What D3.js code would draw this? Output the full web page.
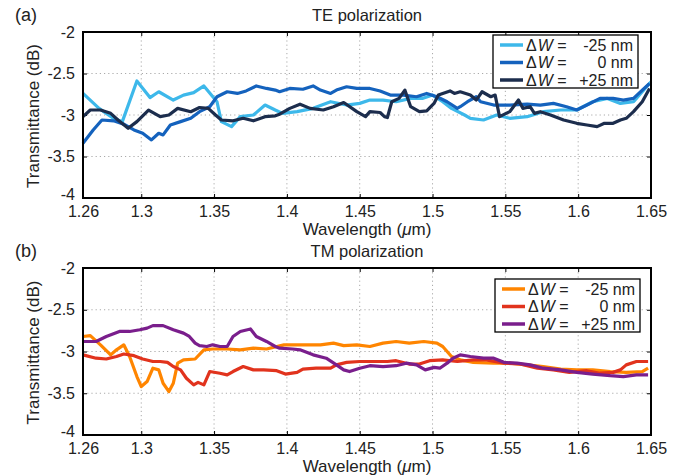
<!DOCTYPE html>
<html>
<head>
<meta charset="utf-8">
<script src="https://cdn.jsdelivr.net/npm/d3@7"></script>
<style>
  body { margin: 0; background: #fff; }
  text { font-family: "Liberation Sans", Arial, sans-serif; fill: #222; }
  .grid line { stroke: #aaa; stroke-dasharray: 1.2 3; stroke-width: 1; }
  .axis .domain { display: none; }
  .axis line { stroke: #000; }
</style>
</head>
<body>
<div id="chart"></div>
<script>
// wavelength (um), transmittance (dB)
var teMinus25 = [[1.260,-2.74],[1.271,-2.92],[1.281,-3.04],[1.287,-3.08],[1.297,-2.59],[1.306,-2.79],[1.312,-2.72],[1.322,-2.82],[1.329,-2.76],[1.336,-2.73],[1.343,-2.65],[1.352,-2.84],[1.355,-3.08],[1.362,-3.14],[1.368,-3.02],[1.377,-3.00],[1.385,-2.88],[1.392,-2.94],[1.397,-2.98],[1.407,-2.96],[1.418,-2.92],[1.430,-2.84],[1.441,-2.88],[1.450,-2.86],[1.457,-2.82],[1.466,-2.82],[1.475,-2.84],[1.485,-2.80],[1.493,-2.80],[1.500,-2.76],[1.507,-2.84],[1.513,-2.92],[1.522,-3.00],[1.526,-3.04],[1.535,-3.06],[1.544,-3.00],[1.553,-3.04],[1.565,-3.02],[1.576,-2.96],[1.588,-2.94],[1.599,-2.94],[1.610,-2.84],[1.620,-2.80],[1.629,-2.86],[1.638,-2.84],[1.647,-2.66],[1.650,-2.60]];
var teZero = [[1.260,-3.34],[1.267,-3.18],[1.273,-3.06],[1.281,-3.07],[1.288,-3.11],[1.295,-3.18],[1.301,-3.22],[1.307,-3.30],[1.312,-3.22],[1.315,-3.24],[1.320,-3.12],[1.327,-3.08],[1.334,-3.04],[1.340,-2.96],[1.347,-2.90],[1.352,-2.78],[1.359,-2.72],[1.366,-2.74],[1.372,-2.71],[1.379,-2.65],[1.386,-2.68],[1.392,-2.70],[1.395,-2.72],[1.402,-2.68],[1.411,-2.69],[1.418,-2.65],[1.423,-2.70],[1.430,-2.74],[1.434,-2.70],[1.441,-2.66],[1.448,-2.68],[1.457,-2.68],[1.464,-2.71],[1.471,-2.76],[1.480,-2.76],[1.489,-2.78],[1.496,-2.74],[1.503,-2.78],[1.510,-2.84],[1.517,-2.92],[1.519,-2.90],[1.524,-2.84],[1.530,-2.78],[1.533,-2.84],[1.542,-2.88],[1.553,-2.88],[1.565,-2.87],[1.574,-2.88],[1.583,-2.86],[1.592,-2.90],[1.599,-2.94],[1.606,-2.88],[1.615,-2.80],[1.624,-2.80],[1.631,-2.82],[1.638,-2.80],[1.644,-2.70],[1.649,-2.62]];
var tePlus25 = [[1.260,-3.02],[1.265,-2.94],[1.272,-2.94],[1.279,-2.98],[1.284,-3.06],[1.291,-3.16],[1.297,-3.08],[1.305,-2.94],[1.313,-3.02],[1.319,-3.00],[1.325,-2.92],[1.334,-2.96],[1.340,-2.91],[1.346,-2.92],[1.351,-3.00],[1.355,-3.06],[1.363,-3.07],[1.370,-3.04],[1.377,-3.07],[1.385,-3.02],[1.392,-3.01],[1.395,-2.99],[1.402,-2.92],[1.409,-2.87],[1.416,-2.92],[1.425,-2.94],[1.432,-2.90],[1.439,-2.85],[1.448,-2.96],[1.454,-3.02],[1.457,-2.96],[1.464,-2.97],[1.467,-3.02],[1.469,-3.03],[1.472,-2.84],[1.477,-2.80],[1.481,-2.70],[1.485,-2.90],[1.491,-2.96],[1.496,-2.95],[1.501,-2.86],[1.504,-2.76],[1.512,-2.71],[1.515,-2.74],[1.519,-2.72],[1.526,-2.76],[1.530,-2.82],[1.534,-2.72],[1.540,-2.78],[1.543,-2.76],[1.546,-3.02],[1.553,-2.96],[1.559,-2.82],[1.562,-2.92],[1.567,-2.90],[1.570,-2.98],[1.574,-2.96],[1.581,-3.00],[1.590,-3.06],[1.599,-3.10],[1.606,-3.12],[1.613,-3.14],[1.618,-3.10],[1.624,-3.10],[1.629,-3.06],[1.633,-3.04],[1.638,-2.96],[1.644,-2.84],[1.649,-2.68]];

var tmMinus25 = [[1.260,-2.82],[1.265,-2.81],[1.272,-2.92],[1.279,-3.04],[1.283,-2.98],[1.288,-2.92],[1.292,-3.06],[1.297,-3.30],[1.300,-3.42],[1.304,-3.36],[1.308,-3.20],[1.312,-3.22],[1.315,-3.38],[1.319,-3.48],[1.322,-3.38],[1.325,-3.14],[1.329,-3.10],[1.337,-3.09],[1.343,-2.98],[1.349,-2.97],[1.359,-2.97],[1.368,-2.98],[1.377,-2.96],[1.386,-2.97],[1.398,-2.92],[1.411,-2.92],[1.423,-2.92],[1.432,-2.90],[1.439,-2.93],[1.448,-2.92],[1.457,-2.94],[1.466,-2.90],[1.475,-2.88],[1.484,-2.90],[1.494,-2.88],[1.503,-2.90],[1.507,-2.94],[1.513,-3.06],[1.519,-3.10],[1.528,-3.13],[1.542,-3.14],[1.553,-3.14],[1.565,-3.16],[1.576,-3.18],[1.588,-3.21],[1.599,-3.22],[1.610,-3.22],[1.622,-3.24],[1.633,-3.25],[1.644,-3.24],[1.648,-3.20]];
var tmZero = [[1.260,-3.04],[1.269,-3.08],[1.276,-3.09],[1.283,-3.06],[1.288,-3.03],[1.295,-3.05],[1.301,-3.09],[1.308,-3.12],[1.313,-3.12],[1.318,-3.13],[1.322,-3.18],[1.327,-3.22],[1.331,-3.32],[1.336,-3.40],[1.339,-3.37],[1.343,-3.40],[1.347,-3.24],[1.354,-3.26],[1.359,-3.28],[1.363,-3.24],[1.370,-3.18],[1.377,-3.22],[1.384,-3.22],[1.393,-3.23],[1.399,-3.27],[1.407,-3.25],[1.411,-3.21],[1.420,-3.20],[1.430,-3.20],[1.434,-3.16],[1.441,-3.13],[1.450,-3.12],[1.459,-3.12],[1.469,-3.12],[1.475,-3.11],[1.484,-3.15],[1.491,-3.15],[1.498,-3.11],[1.507,-3.10],[1.517,-3.12],[1.528,-3.10],[1.537,-3.10],[1.549,-3.14],[1.560,-3.15],[1.572,-3.20],[1.583,-3.22],[1.594,-3.25],[1.606,-3.23],[1.615,-3.26],[1.624,-3.25],[1.629,-3.22],[1.633,-3.16],[1.640,-3.12],[1.648,-3.12]];
var tmPlus25 = [[1.260,-2.88],[1.269,-2.88],[1.276,-2.82],[1.285,-2.76],[1.292,-2.76],[1.299,-2.74],[1.304,-2.72],[1.308,-2.69],[1.315,-2.69],[1.322,-2.74],[1.329,-2.78],[1.333,-2.82],[1.337,-2.90],[1.340,-2.93],[1.345,-2.94],[1.349,-2.92],[1.354,-2.94],[1.359,-2.94],[1.363,-2.82],[1.368,-2.76],[1.375,-2.73],[1.379,-2.82],[1.386,-2.88],[1.392,-2.94],[1.395,-2.96],[1.404,-2.97],[1.409,-2.98],[1.418,-3.04],[1.427,-3.08],[1.434,-3.16],[1.439,-3.22],[1.443,-3.24],[1.450,-3.20],[1.457,-3.17],[1.466,-3.18],[1.475,-3.17],[1.482,-3.14],[1.489,-3.16],[1.495,-3.22],[1.501,-3.19],[1.505,-3.20],[1.510,-3.14],[1.514,-3.08],[1.519,-3.04],[1.526,-3.06],[1.535,-3.08],[1.542,-3.08],[1.549,-3.13],[1.558,-3.14],[1.567,-3.16],[1.576,-3.20],[1.588,-3.22],[1.599,-3.25],[1.610,-3.27],[1.622,-3.29],[1.631,-3.30],[1.640,-3.28],[1.648,-3.28]];

var xTicks = [1.26, 1.3, 1.35, 1.4, 1.45, 1.5, 1.55, 1.6, 1.65];
var yTicks = [-4, -3.5, -3, -2.5, -2];
var legendValues = ['-25 nm', '0 nm', '+25 nm'];
var teColors = ['#3db8ea', '#1462bd', '#1c2d4d'];
var tmColors = ['#ff8500', '#e1331d', '#7a1e8c'];

var svg = d3.select('#chart').append('svg')
  .attr('width', 690)
  .attr('height', 476);

var left = 83, right = 651;
var fontFamily = '"Liberation Sans", Arial, sans-serif';

var x = d3.scaleLinear().domain([1.26, 1.65]).range([left, right]);

function drawPanel(p) {
  var y = d3.scaleLinear().domain([-4, -2]).range([p.bottom, p.top]);
  var g = svg.append('g');

  // dotted grid
  var grid = g.append('g').attr('class', 'grid');
  grid.selectAll('.gx').data(xTicks.slice(1, -1))
    .enter().append('line')
    .attr('x1', function(d) { return x(d); })
    .attr('x2', function(d) { return x(d); })
    .attr('y1', p.top).attr('y2', p.bottom);
  grid.selectAll('.gy').data(yTicks.slice(1, -1))
    .enter().append('line')
    .attr('x1', left).attr('x2', right)
    .attr('y1', function(d) { return y(d); })
    .attr('y2', function(d) { return y(d); });

  // axes with inward ticks
  g.append('g').attr('class', 'axis')
    .attr('transform', 'translate(0,' + p.bottom + ')')
    .call(d3.axisBottom(x).tickValues(xTicks).tickSize(-4).tickPadding(8)
      .tickFormat(function(d) { return String(+d.toFixed(2)); }))
    .selectAll('text').attr('font-size', 16).style('font-family', fontFamily).attr('fill', '#222');
  g.append('g').attr('class', 'axis')
    .attr('transform', 'translate(0,' + p.top + ')')
    .call(d3.axisTop(x).tickValues(xTicks).tickSize(-4).tickFormat(''));
  var yAxis = g.append('g').attr('class', 'axis')
    .attr('transform', 'translate(' + left + ',0)')
    .call(d3.axisLeft(y).tickValues(yTicks).tickSize(-4).tickPadding(8)
      .tickFormat(function(d) { return String(d); }));
  yAxis.selectAll('text').attr('font-size', 16).style('font-family', fontFamily).attr('fill', '#222');
  // the bottom label sits a little above its tick, as in the original
  yAxis.selectAll('.tick').filter(function(d) { return d === -4; })
    .select('text').attr('y', -4);
  g.append('g').attr('class', 'axis')
    .attr('transform', 'translate(' + right + ',0)')
    .call(d3.axisRight(y).tickValues(yTicks).tickSize(-4).tickFormat(''));

  // curves
  var line = d3.line()
    .x(function(d) { return x(d[0]); })
    .y(function(d) { return y(d[1]); });

  g.selectAll('path.curve').data(p.series)
    .enter().append('path')
    .attr('class', 'curve')
    .attr('d', line)
    .attr('fill', 'none')
    .attr('stroke', function(d, i) { return p.colors[i]; })
    .attr('stroke-width', 3.2)
    .attr('stroke-linejoin', 'round');

  // frame
  g.append('rect')
    .attr('x', left).attr('y', p.top)
    .attr('width', right - left).attr('height', p.bottom - p.top)
    .attr('fill', 'none').attr('stroke', '#000').attr('stroke-width', 2);

  // titles and labels
  g.append('text').attr('x', 367).attr('y', p.top - 11)
    .attr('text-anchor', 'middle').attr('font-size', 16.5).text(p.title);
  g.append('text').attr('x', 15).attr('y', p.top - 11)
    .attr('font-size', 18).text(p.tag);
  g.append('text').attr('x', 367).attr('y', p.bottom + 37)
    .attr('text-anchor', 'middle').attr('font-size', 17)
    .html('Wavelength (<tspan font-style="italic">μ</tspan>m)');
  g.append('text')
    .attr('transform', 'translate(39,' + ((p.top + p.bottom) / 2 + 1) + ') rotate(-90)')
    .attr('text-anchor', 'middle').attr('font-size', 17)
    .text('Transmittance (dB)');

  // legend
  var lg = g.append('g').attr('transform', 'translate(' + p.legX + ',' + p.legY + ')');
  lg.append('rect').attr('width', 145).attr('height', 53)
    .attr('fill', '#fff').attr('stroke', '#000').attr('stroke-width', 1.3);
  var rows = lg.selectAll('g.row').data(legendValues)
    .enter().append('g').attr('class', 'row')
    .attr('transform', function(d, i) { return 'translate(0,' + (10 + i * 17.5) + ')'; });
  rows.append('line')
    .attr('x1', 7).attr('x2', 30).attr('y1', 0).attr('y2', 0)
    .attr('stroke', function(d, i) { return p.colors[i]; })
    .attr('stroke-width', 3.5);
  rows.append('text').attr('x', 33).attr('y', 5.5).attr('font-size', 16)
    .html('Δ<tspan dx="1" font-style="italic">W</tspan> =');
  rows.append('text').attr('x', 140).attr('y', 5.5).attr('font-size', 16)
    .attr('text-anchor', 'end')
    .text(function(d) { return d; });
}

drawPanel({
  top: 32, bottom: 198, tag: '(a)', title: 'TE polarization',
  series: [teMinus25, teZero, tePlus25], colors: teColors,
  legX: 493, legY: 35
});

drawPanel({
  top: 268, bottom: 435, tag: '(b)', title: 'TM polarization',
  series: [tmMinus25, tmZero, tmPlus25], colors: tmColors,
  legX: 495, legY: 279
});
</script>
</body>
</html>
